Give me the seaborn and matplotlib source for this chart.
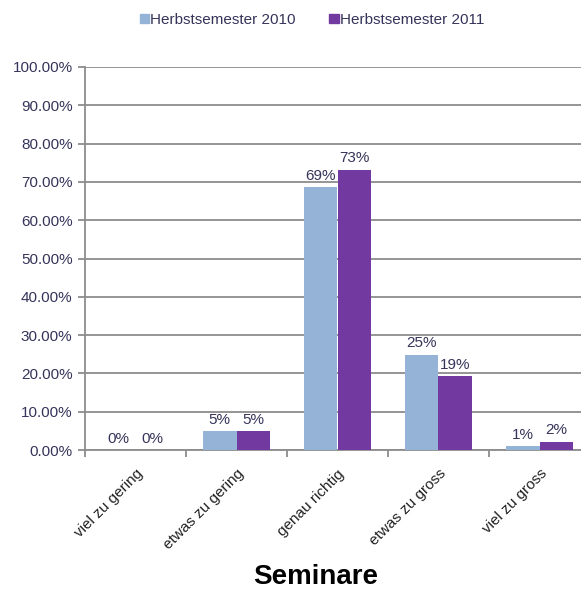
import matplotlib
matplotlib.use("Agg")
import matplotlib.pyplot as plt
from matplotlib.ticker import FixedLocator, PercentFormatter
import seaborn as sns
import pandas as pd

categories = ["viel zu gering", "etwas zu gering", "genau richtig", "etwas zu gross", "viel zu gross"]
series_names = ["Herbstsemester 2010", "Herbstsemester 2011"]
values_2010 = [0.0, 5.0, 68.6, 24.9, 1.0]
values_2011 = [0.0, 5.0, 73.2, 19.2, 2.2]
y_ticks = [0, 10, 20, 30, 40, 50, 60, 70, 80, 90, 100]
title = "Seminare"

colors = ["#95B3D7", "#7239A0"]
text_color = "#35345a"
grid_color = "#8c8c8c"

df = pd.DataFrame({
    "Kategorie": categories * 2,
    "Semester": [series_names[0]] * len(categories) + [series_names[1]] * len(categories),
    "Anteil": values_2010 + values_2011,
})

sns.set_theme(style="white")
plt.rcParams["font.family"] = ["Liberation Sans", "DejaVu Sans"]

fig = plt.figure(figsize=(5.81, 5.90), dpi=100)
W, H = 581, 590
ax = fig.add_axes([85 / W, 1 - 450 / H, (590 - 85) / W, (450 - 67) / H])

sns.barplot(data=df, x="Kategorie", y="Anteil", hue="Semester", order=categories,
            hue_order=series_names, palette=colors, width=0.67, saturation=1,
            linewidth=0, edgecolor="none", ax=ax, legend=False, zorder=3)

ax.set_xlim(-0.5, len(categories) - 0.5)
ax.set_ylim(0, 100)
ax.yaxis.set_major_locator(FixedLocator(y_ticks))
ax.yaxis.set_major_formatter(PercentFormatter(decimals=2))
ax.grid(axis="y", color=grid_color, linewidth=1.3, zorder=0)
ax.set_axisbelow(True)

for side in ["top", "right"]:
    ax.spines[side].set_visible(False)
for side in ["left", "bottom"]:
    ax.spines[side].set_color(grid_color)
    ax.spines[side].set_linewidth(1.3)

ax.tick_params(axis="y", which="major", left=True, length=5, width=1.3, color=grid_color,
               labelsize=11, labelcolor=text_color, pad=4)
ax.set_xticks(range(len(categories)))
ax.set_xticklabels(categories, rotation=45, ha="right", rotation_mode="anchor",
                   fontsize=11, color="#222222")
ax.tick_params(axis="x", which="major", length=0, pad=12)
ax.set_xticks([i - 0.5 for i in range(len(categories) + 1)], minor=True)
ax.tick_params(axis="x", which="minor", bottom=True, length=5, width=1.3, color=grid_color)
ax.set_xlabel("")
ax.set_ylabel("")

for container, vals in zip(ax.containers, [values_2010, values_2011]):
    ax.bar_label(container, labels=[f"{v:.0f}%" for v in vals], padding=3,
                 fontsize=11, color=text_color)

fig.text(316 / W, 1 - 577 / H, title, ha="center", va="center",
         fontsize=20, fontweight="bold", color="black")

handles = [plt.Rectangle((0, 0), 1, 1, color=c) for c in colors]
fig.legend(handles, series_names, loc="center", bbox_to_anchor=(312 / W, 1 - 20 / H),
           ncol=2, frameon=False, fontsize=11, labelcolor=text_color,
           handlelength=0.6, handleheight=0.6, handletextpad=0.1, columnspacing=2.2)

fig.savefig("out.png", dpi=100)
